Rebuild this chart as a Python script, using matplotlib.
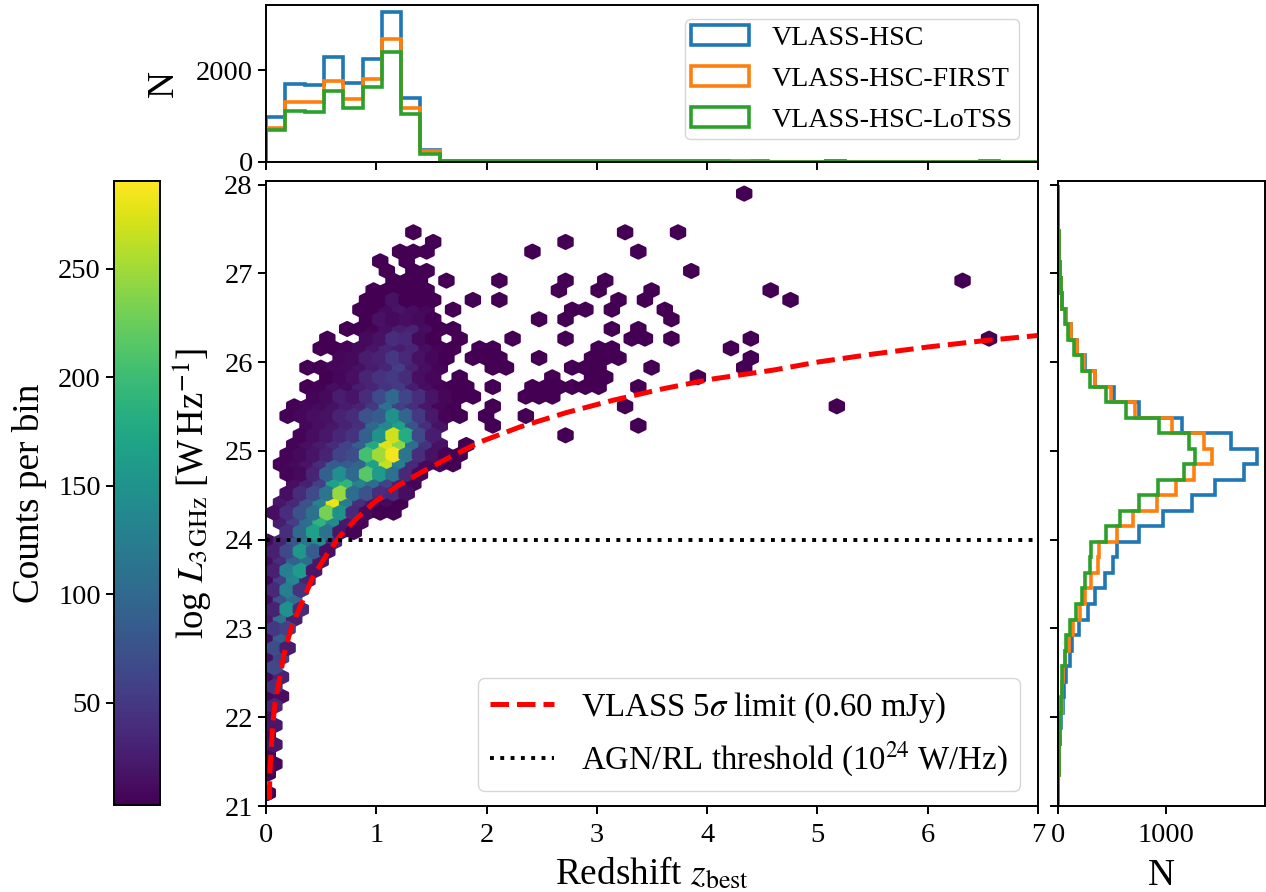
#!/usr/bin/env python
import numpy as np
import matplotlib
matplotlib.use('Agg')
import matplotlib.pyplot as plt
from matplotlib.patches import Patch

plt.rcParams['font.family'] = ['Liberation Serif', 'DejaVu Serif']
plt.rcParams['mathtext.fontset'] = 'stix'

W, H = 1266.0, 892.0

# hexbin lattice
x_start, x_step = 0.016, 0.12
y_start, y_step = 21.146, 0.2178
n_x, n_y = 56, 32

# dense part of the hexbin: one entry per row (bottom up), columns go in steps of 2
core_first_col = [0, 1, 0, 1, 0, 1, 0, 1, 0, 1, 0, 1, 0, 1, 0, 1, 0, 1, 0, 1, 0, 1, 0, 1, 0, 1, 0, 3, 2, 1,
                  2, 3, 4, 3, 2, 3, 4, 5, 6, 3, 4, 7, 6, 9, 6, 11, 8, 15, 12, 15, 14, 15, 16, 19, 22, 21,
                  20, 25, 22]
core_counts = [
    [1], [], [3], [8], [6], [20], [10], [20], [14], [35],
    [8, 12], [45], [10, 30], [65], [14, 60], [70, 25], [14, 90], [50, 60], [20, 110, 28], [30, 150, 38],
    [12, 75, 105], [35, 125, 45], [8, 55, 135, 30], [28, 125, 160, 20], [14, 40, 90, 105, 22],
    [28, 65, 155, 85, 14], [10, 30, 80, 115, 140, 35], [40, 100, 165, 110, 20, 6],
    [25, 55, 105, 190, 140, 22, 8], [12, 40, 75, 110, 230, 150, 35, 10, 3, 2],
    [20, 35, 75, 130, 280, 120, 40, 18, 10, 4], [14, 38, 68, 115, 245, 105, 75, 40, 35, 12],
    [14, 28, 55, 165, 190, 130, 105, 60, 28, 6], [6, 10, 32, 90, 145, 100, 215, 160, 110, 35, 10],
    [6, 10, 18, 38, 85, 85, 95, 165, 265, 125, 35, 10, 6, 2],
    [6, 10, 18, 30, 60, 70, 205, 250, 285, 115, 40, 16, 6, 2],
    [6, 14, 24, 38, 60, 90, 175, 275, 240, 105, 45, 16], [6, 12, 20, 34, 45, 90, 150, 270, 180, 65, 26],
    [8, 14, 20, 30, 42, 100, 135, 165, 75, 40, 16], [5, 8, 12, 16, 30, 38, 75, 85, 150, 95, 50, 22, 6, 3],
    [5, 8, 10, 16, 24, 30, 50, 110, 58, 42, 20, 8, 3], [6, 10, 26, 18, 38, 68, 100, 62, 40, 18, 8, 4, 2],
    [3, 5, 12, 10, 26, 32, 45, 52, 26, 12, 6, 4, 2], [4, 8, 14, 32, 44, 52, 38, 14, 8],
    [3, 4, 8, 10, 16, 24, 34, 55, 28, 14, 6], [8, 10, 26, 30, 48, 36, 16, 8, 4],
    [3, 4, 6, 10, 18, 32, 26, 34, 12, 6, 2], [10, 16, 40, 35, 10, 4], [2, 3, 6, 14, 26, 30, 12, 4, 1],
    [3, 16, 10, 14, 10, 3], [2, 4, 10, 18, 12, 8], [2, 4, 16, 2, 3, 1], [1, 1, 2, 1, 1], [1, 1, 1], [1, 1],
    [1], [1, 1, 1], [1], [1],
]

# lone bins with a single source: row -> columns
lone_rows = [62, 58, 57, 56, 55, 54, 53, 52, 51, 50, 49, 48, 47, 46, 45, 44, 43, 42, 41, 40, 39, 38, 37, 36]
lone_cols = [
    [72], [54, 62], [45], [40, 56], [17], [18, 64], [27, 35, 45, 51, 105], [44, 50, 58, 77],
    [31, 35, 53, 57, 79], [28, 46, 48, 52, 60], [41, 45, 61], [52, 56],
    [9, 29, 37, 45, 55, 57, 61, 73, 109], [32, 34, 50, 52, 70], [31, 33, 35, 41, 49, 51, 53, 73],
    [34, 36, 46, 48, 50, 58, 72], [29, 43, 49, 51, 65], [34, 40, 42, 44, 46, 48, 50, 56],
    [39, 41, 43], [34, 54, 86], [33, 39], [34, 56], [45], [30],
]

# VLASS limit curve, read point by point
limit_z = [0.03, 0.036, 0.06, 0.082, 0.127, 0.172, 0.233, 0.308, 0.426, 0.55, 0.671, 0.807, 0.97, 1.185,
           1.396, 1.668, 1.94, 2.303, 2.72, 3.146, 3.6, 4.05, 4.6, 5.0, 5.5, 6.0, 6.5, 7.0]
limit_l = [21.07, 21.4, 21.9, 22.16, 22.46, 22.76, 23.02, 23.24, 23.58, 23.83, 24.04, 24.22, 24.41, 24.6,
           24.75, 24.93, 25.1, 25.27, 25.43, 25.57, 25.7, 25.81, 25.91, 26.0, 26.09, 26.17, 26.24, 26.3]

# redshift histograms, 0.175 wide bins
z_edges = [i * 0.175 for i in range(41)]
z_hsc = [974, 1707, 1678, 2293, 1729, 2256, 3267, 1392, 242, 12, 8, 5, 4, 3, 3, 2, 2, 1, 1, 1,
         1, 1, 1, 1, 1, 1, 0, 0, 0, 1, 0, 0, 0, 0, 0, 0, 0, 1, 0, 0]
z_first = [740, 1311, 1297, 1773, 1363, 1802, 2674, 1172, 227, 10, 6, 4, 3, 2, 2, 2, 1, 1, 1, 1,
           1, 1, 1, 1, 1, 0, 0, 0, 0, 1, 0, 0, 0, 0, 0, 0, 0, 0, 0, 0]
z_lotss = [681, 1099, 1084, 1546, 1172, 1626, 2396, 1048, 168, 10, 5, 3, 2, 2, 2, 1, 1, 1, 1, 1,
           1, 1, 1, 1, 0, 0, 0, 0, 0, 1, 0, 0, 0, 0, 0, 0, 0, 0, 0, 0]

# luminosity histograms, bottom up
l_edges = [21 + i * 0.175 for i in range(41)]
l_hsc = [1, 3, 6, 9, 22, 31, 46, 52, 71, 114, 130, 191, 278, 340, 432, 509, 549, 747, 972, 1241,
         1457, 1725, 1840, 1599, 1151, 747, 515, 340, 253, 175, 125, 72, 38, 25, 15, 8, 5, 2, 1, 1]
l_first = [1, 3, 6, 7, 15, 22, 34, 40, 46, 62, 102, 139, 201, 247, 309, 370, 380, 546, 694, 917,
           1096, 1262, 1423, 1355, 1059, 713, 494, 340, 238, 175, 120, 72, 38, 25, 15, 8, 5, 2, 1, 1]
l_lotss = [1, 3, 6, 8, 15, 22, 28, 34, 40, 65, 77, 114, 170, 222, 253, 293, 309, 441, 571, 747,
           923, 1164, 1272, 1210, 935, 633, 441, 293, 225, 150, 95, 68, 35, 25, 15, 8, 5, 2, 1, 1]

hist_labels = ['VLASS-HSC', 'VLASS-HSC-FIRST', 'VLASS-HSC-LoTSS']
hist_colors = ['C0', 'C1', 'C2']


def axes_px(x0, y0, x1, y1):
    return fig.add_axes([x0 / W, 1 - y1 / H, (x1 - x0) / W, (y1 - y0) / H])


fig = plt.figure(figsize=(W / 100, H / 100), dpi=100)
ax = axes_px(266, 181, 1038, 806)
ax_top = axes_px(266, 5, 1038, 161.5)
ax_right = axes_px(1058, 181, 1265, 806)
cax = axes_px(114, 181, 160, 805)

# turn the bin tables into points that hexbin can count
cols, rows, counts = [], [], []
for r, (first, vals) in enumerate(zip(core_first_col, core_counts)):
    for i, n in enumerate(vals):
        cols.append(first + 2 * i)
        rows.append(r)
        counts.append(n)
for r, col_list in zip(lone_rows, lone_cols):
    for k in col_list:
        cols.append(k)
        rows.append(r)
        counts.append(1)
x = x_start + np.array(cols) * x_step / 2
y = y_start + np.array(rows) * y_step / 2

hb = ax.hexbin(x, y, C=counts, reduce_C_function=np.sum, gridsize=(n_x, n_y),
               extent=(x_start, x_start + n_x * x_step, y_start, y_start + n_y * y_step),
               cmap='viridis', vmin=3, vmax=290.5, linewidths=2.3)
ax.plot(limit_z, limit_l, color='red', ls='--', lw=3.6, label=r'VLASS 5$\sigma$ limit (0.60 mJy)')
ax.axhline(24, color='k', ls=':', lw=2.8, label=r'AGN/RL threshold (10$^{24}$ W/Hz)')
ax.set_xlim(0, 7)
ax.set_ylim(21, 28.04)
ax.set_xlabel(r'Redshift $z_{\mathrm{best}}$', fontsize=26.8, labelpad=5)
ax.set_ylabel(r'log $L_{3\,\mathrm{GHz}}$ [W$\,$Hz$^{-1}$]', fontsize=26.6, labelpad=8)
ax.legend(loc='lower left', bbox_to_anchor=(0.2746, 0.024), borderaxespad=0, fontsize=23.6,
          handlelength=1.95, labelspacing=0.45, borderpad=0.37, handletextpad=0.82)

for vals, col in zip([z_hsc, z_first, z_lotss], hist_colors):
    ax_top.stairs(vals, z_edges, color=col, lw=2.6)
ax_top.set_xlim(0, 7)
ax_top.set_ylim(0, 3430)
ax_top.set_yticks([0, 2000])
ax_top.set_xticks(range(8))
ax_top.set_xticklabels([])
ax_top.set_ylabel('N', fontsize=26.8, labelpad=11)
handles = [Patch(fill=False, edgecolor=c, lw=2.6, label=l) for c, l in zip(hist_colors, hist_labels)]
ax_top.legend(handles=handles, loc='upper right', bbox_to_anchor=(0.976, 0.91), borderaxespad=0,
              fontsize=20.2, handlelength=2.07, labelspacing=0.55, borderpad=0.22, handletextpad=0.82)

for vals, col in zip([l_hsc, l_first, l_lotss], hist_colors):
    ax_right.stairs(vals, l_edges, orientation='horizontal', color=col, lw=2.6)
ax_right.set_ylim(21, 28.04)
ax_right.set_xlim(0, 1917)
ax_right.set_xticks([0, 1000])
ax_right.set_yticks(range(21, 29))
ax_right.set_yticklabels([])
ax_right.set_xlabel('N', fontsize=26.8, labelpad=7)

cb = fig.colorbar(hb, cax=cax)
cb.set_ticks([50, 100, 150, 200, 250])
cax.yaxis.set_ticks_position('left')
cax.yaxis.set_label_position('left')
cb.set_label('Counts per bin', fontsize=26.8, labelpad=8)

for a in [ax, ax_top, ax_right, cax]:
    a.tick_params(labelsize=20.5, length=6, width=1.4)
    a.tick_params(axis='x', pad=6.5)
    for s in a.spines.values():
        s.set_linewidth(1.4)

fig.savefig('out.png', dpi=100)
